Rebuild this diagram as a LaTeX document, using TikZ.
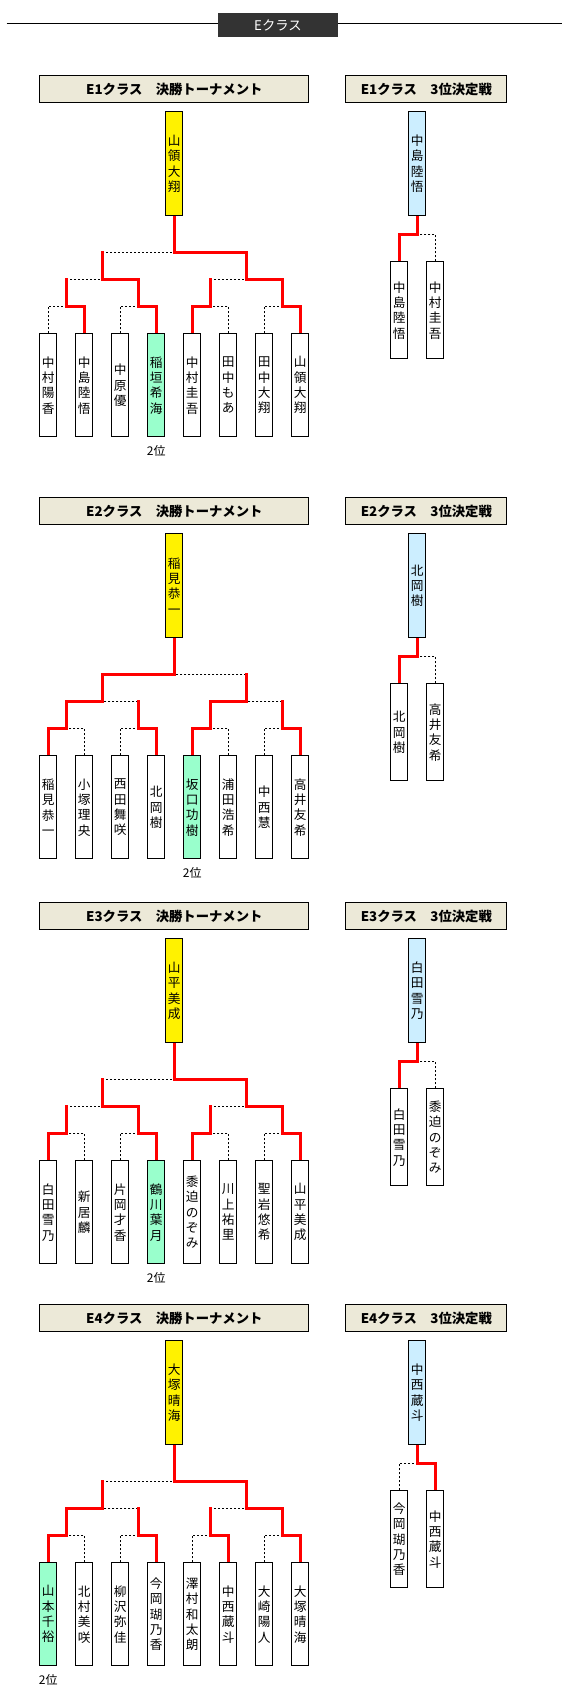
\documentclass[tikz,border=0pt]{standalone}
\usepackage{fontspec}
\setmainfont{Noto Sans CJK JP}
\definecolor{mint}{HTML}{99FFCC}
\definecolor{pale}{HTML}{CCEEFF}
\definecolor{beige}{HTML}{ECE9D8}
\definecolor{dark}{HTML}{333333}
\begin{document}
\begin{tikzpicture}[x=0.75pt,y=-0.75pt,
    leaf/.style={draw,fill=white,line width=0.75pt,inner sep=0pt,
      minimum width=12.75pt,minimum height=77.25pt,align=center,
      font=\fontsize{9.5}{11.5}\selectfont},
    runnerup/.style={leaf,fill=mint},
    champ/.style={leaf,fill=yellow,minimum height=78pt},
    thirdbox/.style={leaf,fill=pale,minimum height=78pt},
    smallleaf/.style={leaf,minimum height=72.75pt},
    classtitle/.style={draw,fill=beige,line width=0.75pt,minimum height=20.25pt,
      inner sep=0pt,font=\fontsize{10}{12}\selectfont\bfseries},
    win/.style={red,line width=2.25pt,line cap=rect},
    winup/.style={win,shorten <=1.125pt},
    lose/.style={line width=0.75pt,dash pattern=on 1.5pt off 1.5pt},
    rank/.style={font=\fontsize{9}{11}\selectfont}]
    \useasboundingbox (0,0) rectangle (570,1702);
    % ---- 見出し ----
    \coordinate (hl) at (6.6,24);
    \coordinate (hr) at (562,24);
    \draw[line width=0.75pt] (hl) -- (hr);
    \node[fill=dark,text=white,minimum width=90pt,minimum height=18pt,inner sep=0pt,
      font=\fontsize{10}{12}\selectfont] (head) at (278,25.3) {Eクラス};
    % ---- E1 ----
    \def\ty{75.3}
    \node[classtitle,minimum width=201.75pt] (t1) at (174.3,\ty+14) {E1クラス　決勝トーナメント};
    \node[classtitle,minimum width=120.75pt] (u1) at (426.3,\ty+14) {E1クラス　3位決定戦};
    \node[champ] (w1) at (174.3,\ty+88.5) {山\\領\\大\\翔};
    \foreach \n/\st [count=\i] in {{中\\村\\陽\\香}/leaf,{中\\島\\陸\\悟}/leaf,{中\\原\\優}/leaf,{稲\\垣\\希\\海}/runnerup,{中\\村\\圭\\吾}/leaf,{田\\中\\も\\あ}/leaf,{田\\中\\大\\翔}/leaf,{山\\領\\大\\翔}/leaf}
        \node[\st] (a1-\i) at (12.3+36*\i,\ty+310) {\n};
    \node[rank] (n1) at (156.3,\ty+376) {2位};
    \foreach \k in {1,...,4}
        \coordinate (p1-\k) at (-5.7+72*\k,\ty+231);
    \coordinate (q1-1) at (102.3,\ty+204);
    \coordinate (q1-2) at (246.3,\ty+204);
    \coordinate (r1) at (174.3,\ty+177);
    \foreach \i/\k in {1/1,3/2,6/3,7/4}
        \draw[lose] (a1-\i.north) |- (p1-\k);
    \draw[lose] (p1-1 |- q1-1) -- (q1-1);
    \draw[lose] (p1-3 |- q1-2) -- (q1-2);
    \draw[lose] (q1-1 |- r1) -- (r1);
    \foreach \i/\k in {2/1,4/2,5/3,8/4}
        \draw[winup] (a1-\i.north) |- (p1-\k);
    \draw[win] (p1-1) -- (p1-1 |- q1-1);
    \draw[win] (p1-2) |- (q1-1);
    \draw[win] (p1-3) -- (p1-3 |- q1-2);
    \draw[win] (p1-4) |- (q1-2);
    \draw[win] (q1-1) -- (q1-1 |- r1);
    \draw[win] (q1-2) |- (r1);
    \draw[winup] (w1.south) -- (r1);
    % 3位決定戦
    \node[thirdbox] (b1) at (417.3,\ty+88.5) {中\\島\\陸\\悟};
    \node[smallleaf] (c1-1) at (399.3,\ty+235) {中\\島\\陸\\悟};
    \node[smallleaf] (c1-2) at (435.3,\ty+235) {中\\村\\圭\\吾};
    \coordinate (s1) at (417.3,\ty+159);
    \draw[lose] (c1-2.north) |- (s1);
    \draw[winup] (c1-1.north) |- (s1);
    \draw[winup] (b1.south) -- (s1);
    % ---- E2 ----
    \def\ty{497.3}
    \node[classtitle,minimum width=201.75pt] (t2) at (174.3,\ty+14) {E2クラス　決勝トーナメント};
    \node[classtitle,minimum width=120.75pt] (u2) at (426.3,\ty+14) {E2クラス　3位決定戦};
    \node[champ] (w2) at (174.3,\ty+88.5) {稲\\見\\恭\\一};
    \foreach \n/\st [count=\i] in {{稲\\見\\恭\\一}/leaf,{小\\塚\\理\\央}/leaf,{西\\田\\舞\\咲}/leaf,{北\\岡\\樹}/leaf,{坂\\口\\功\\樹}/runnerup,{浦\\田\\浩\\希}/leaf,{中\\西\\慧}/leaf,{高\\井\\友\\希}/leaf}
        \node[\st] (a2-\i) at (12.3+36*\i,\ty+310) {\n};
    \node[rank] (n2) at (192.3,\ty+376) {2位};
    \foreach \k in {1,...,4}
        \coordinate (p2-\k) at (-5.7+72*\k,\ty+231);
    \coordinate (q2-1) at (102.3,\ty+204);
    \coordinate (q2-2) at (246.3,\ty+204);
    \coordinate (r2) at (174.3,\ty+177);
    \foreach \i/\k in {2/1,3/2,6/3,7/4}
        \draw[lose] (a2-\i.north) |- (p2-\k);
    \draw[lose] (p2-2 |- q2-1) -- (q2-1);
    \draw[lose] (p2-4 |- q2-2) -- (q2-2);
    \draw[lose] (q2-2 |- r2) -- (r2);
    \foreach \i/\k in {1/1,4/2,5/3,8/4}
        \draw[winup] (a2-\i.north) |- (p2-\k);
    \draw[win] (p2-1) |- (q2-1);
    \draw[win] (p2-2) -- (p2-2 |- q2-1);
    \draw[win] (p2-3) |- (q2-2);
    \draw[win] (p2-4) -- (p2-4 |- q2-2);
    \draw[win] (q2-1) |- (r2);
    \draw[win] (q2-2) -- (q2-2 |- r2);
    \draw[winup] (w2.south) -- (r2);
    % 3位決定戦
    \node[thirdbox] (b2) at (417.3,\ty+88.5) {北\\岡\\樹};
    \node[smallleaf] (c2-1) at (399.3,\ty+235) {北\\岡\\樹};
    \node[smallleaf] (c2-2) at (435.3,\ty+235) {高\\井\\友\\希};
    \coordinate (s2) at (417.3,\ty+159);
    \draw[lose] (c2-2.north) |- (s2);
    \draw[winup] (c2-1.north) |- (s2);
    \draw[winup] (b2.south) -- (s2);
    % ---- E3 ----
    \def\ty{902.3}
    \node[classtitle,minimum width=201.75pt] (t3) at (174.3,\ty+14) {E3クラス　決勝トーナメント};
    \node[classtitle,minimum width=120.75pt] (u3) at (426.3,\ty+14) {E3クラス　3位決定戦};
    \node[champ] (w3) at (174.3,\ty+88.5) {山\\平\\美\\成};
    \foreach \n/\st [count=\i] in {{白\\田\\雪\\乃}/leaf,{新\\居\\麟}/leaf,{片\\岡\\才\\香}/leaf,{鶴\\川\\葉\\月}/runnerup,{黍\\迫\\の\\ぞ\\み}/leaf,{川\\上\\祐\\里}/leaf,{聖\\岩\\悠\\希}/leaf,{山\\平\\美\\成}/leaf}
        \node[\st] (a3-\i) at (12.3+36*\i,\ty+310) {\n};
    \node[rank] (n3) at (156.3,\ty+376) {2位};
    \foreach \k in {1,...,4}
        \coordinate (p3-\k) at (-5.7+72*\k,\ty+231);
    \coordinate (q3-1) at (102.3,\ty+204);
    \coordinate (q3-2) at (246.3,\ty+204);
    \coordinate (r3) at (174.3,\ty+177);
    \foreach \i/\k in {2/1,3/2,6/3,7/4}
        \draw[lose] (a3-\i.north) |- (p3-\k);
    \draw[lose] (p3-1 |- q3-1) -- (q3-1);
    \draw[lose] (p3-3 |- q3-2) -- (q3-2);
    \draw[lose] (q3-1 |- r3) -- (r3);
    \foreach \i/\k in {1/1,4/2,5/3,8/4}
        \draw[winup] (a3-\i.north) |- (p3-\k);
    \draw[win] (p3-1) -- (p3-1 |- q3-1);
    \draw[win] (p3-2) |- (q3-1);
    \draw[win] (p3-3) -- (p3-3 |- q3-2);
    \draw[win] (p3-4) |- (q3-2);
    \draw[win] (q3-1) -- (q3-1 |- r3);
    \draw[win] (q3-2) |- (r3);
    \draw[winup] (w3.south) -- (r3);
    % 3位決定戦
    \node[thirdbox] (b3) at (417.3,\ty+88.5) {白\\田\\雪\\乃};
    \node[smallleaf] (c3-1) at (399.3,\ty+235) {白\\田\\雪\\乃};
    \node[smallleaf] (c3-2) at (435.3,\ty+235) {黍\\迫\\の\\ぞ\\み};
    \coordinate (s3) at (417.3,\ty+159);
    \draw[lose] (c3-2.north) |- (s3);
    \draw[winup] (c3-1.north) |- (s3);
    \draw[winup] (b3.south) -- (s3);
    % ---- E4 ----
    \def\ty{1304.3}
    \node[classtitle,minimum width=201.75pt] (t4) at (174.3,\ty+14) {E4クラス　決勝トーナメント};
    \node[classtitle,minimum width=120.75pt] (u4) at (426.3,\ty+14) {E4クラス　3位決定戦};
    \node[champ] (w4) at (174.3,\ty+88.5) {大\\塚\\晴\\海};
    \foreach \n/\st [count=\i] in {{山\\本\\千\\裕}/runnerup,{北\\村\\美\\咲}/leaf,{柳\\沢\\弥\\佳}/leaf,{今\\岡\\瑚\\乃\\香}/leaf,{澤\\村\\和\\太\\朗}/leaf,{中\\西\\蔵\\斗}/leaf,{大\\崎\\陽\\人}/leaf,{大\\塚\\晴\\海}/leaf}
        \node[\st] (a4-\i) at (12.3+36*\i,\ty+310) {\n};
    \node[rank] (n4) at (48.3,\ty+376) {2位};
    \foreach \k in {1,...,4}
        \coordinate (p4-\k) at (-5.7+72*\k,\ty+231);
    \coordinate (q4-1) at (102.3,\ty+204);
    \coordinate (q4-2) at (246.3,\ty+204);
    \coordinate (r4) at (174.3,\ty+177);
    \foreach \i/\k in {2/1,3/2,5/3,7/4}
        \draw[lose] (a4-\i.north) |- (p4-\k);
    \draw[lose] (p4-2 |- q4-1) -- (q4-1);
    \draw[lose] (p4-3 |- q4-2) -- (q4-2);
    \draw[lose] (q4-1 |- r4) -- (r4);
    \foreach \i/\k in {1/1,4/2,6/3,8/4}
        \draw[winup] (a4-\i.north) |- (p4-\k);
    \draw[win] (p4-1) |- (q4-1);
    \draw[win] (p4-2) -- (p4-2 |- q4-1);
    \draw[win] (p4-3) -- (p4-3 |- q4-2);
    \draw[win] (p4-4) |- (q4-2);
    \draw[win] (q4-1) -- (q4-1 |- r4);
    \draw[win] (q4-2) |- (r4);
    \draw[winup] (w4.south) -- (r4);
    % 3位決定戦
    \node[thirdbox] (b4) at (417.3,\ty+88.5) {中\\西\\蔵\\斗};
    \node[smallleaf] (c4-1) at (399.3,\ty+235) {今\\岡\\瑚\\乃\\香};
    \node[smallleaf] (c4-2) at (435.3,\ty+235) {中\\西\\蔵\\斗};
    \coordinate (s4) at (417.3,\ty+159);
    \draw[lose] (c4-1.north) |- (s4);
    \draw[winup] (c4-2.north) |- (s4);
    \draw[winup] (b4.south) -- (s4);
\end{tikzpicture}
\end{document}
